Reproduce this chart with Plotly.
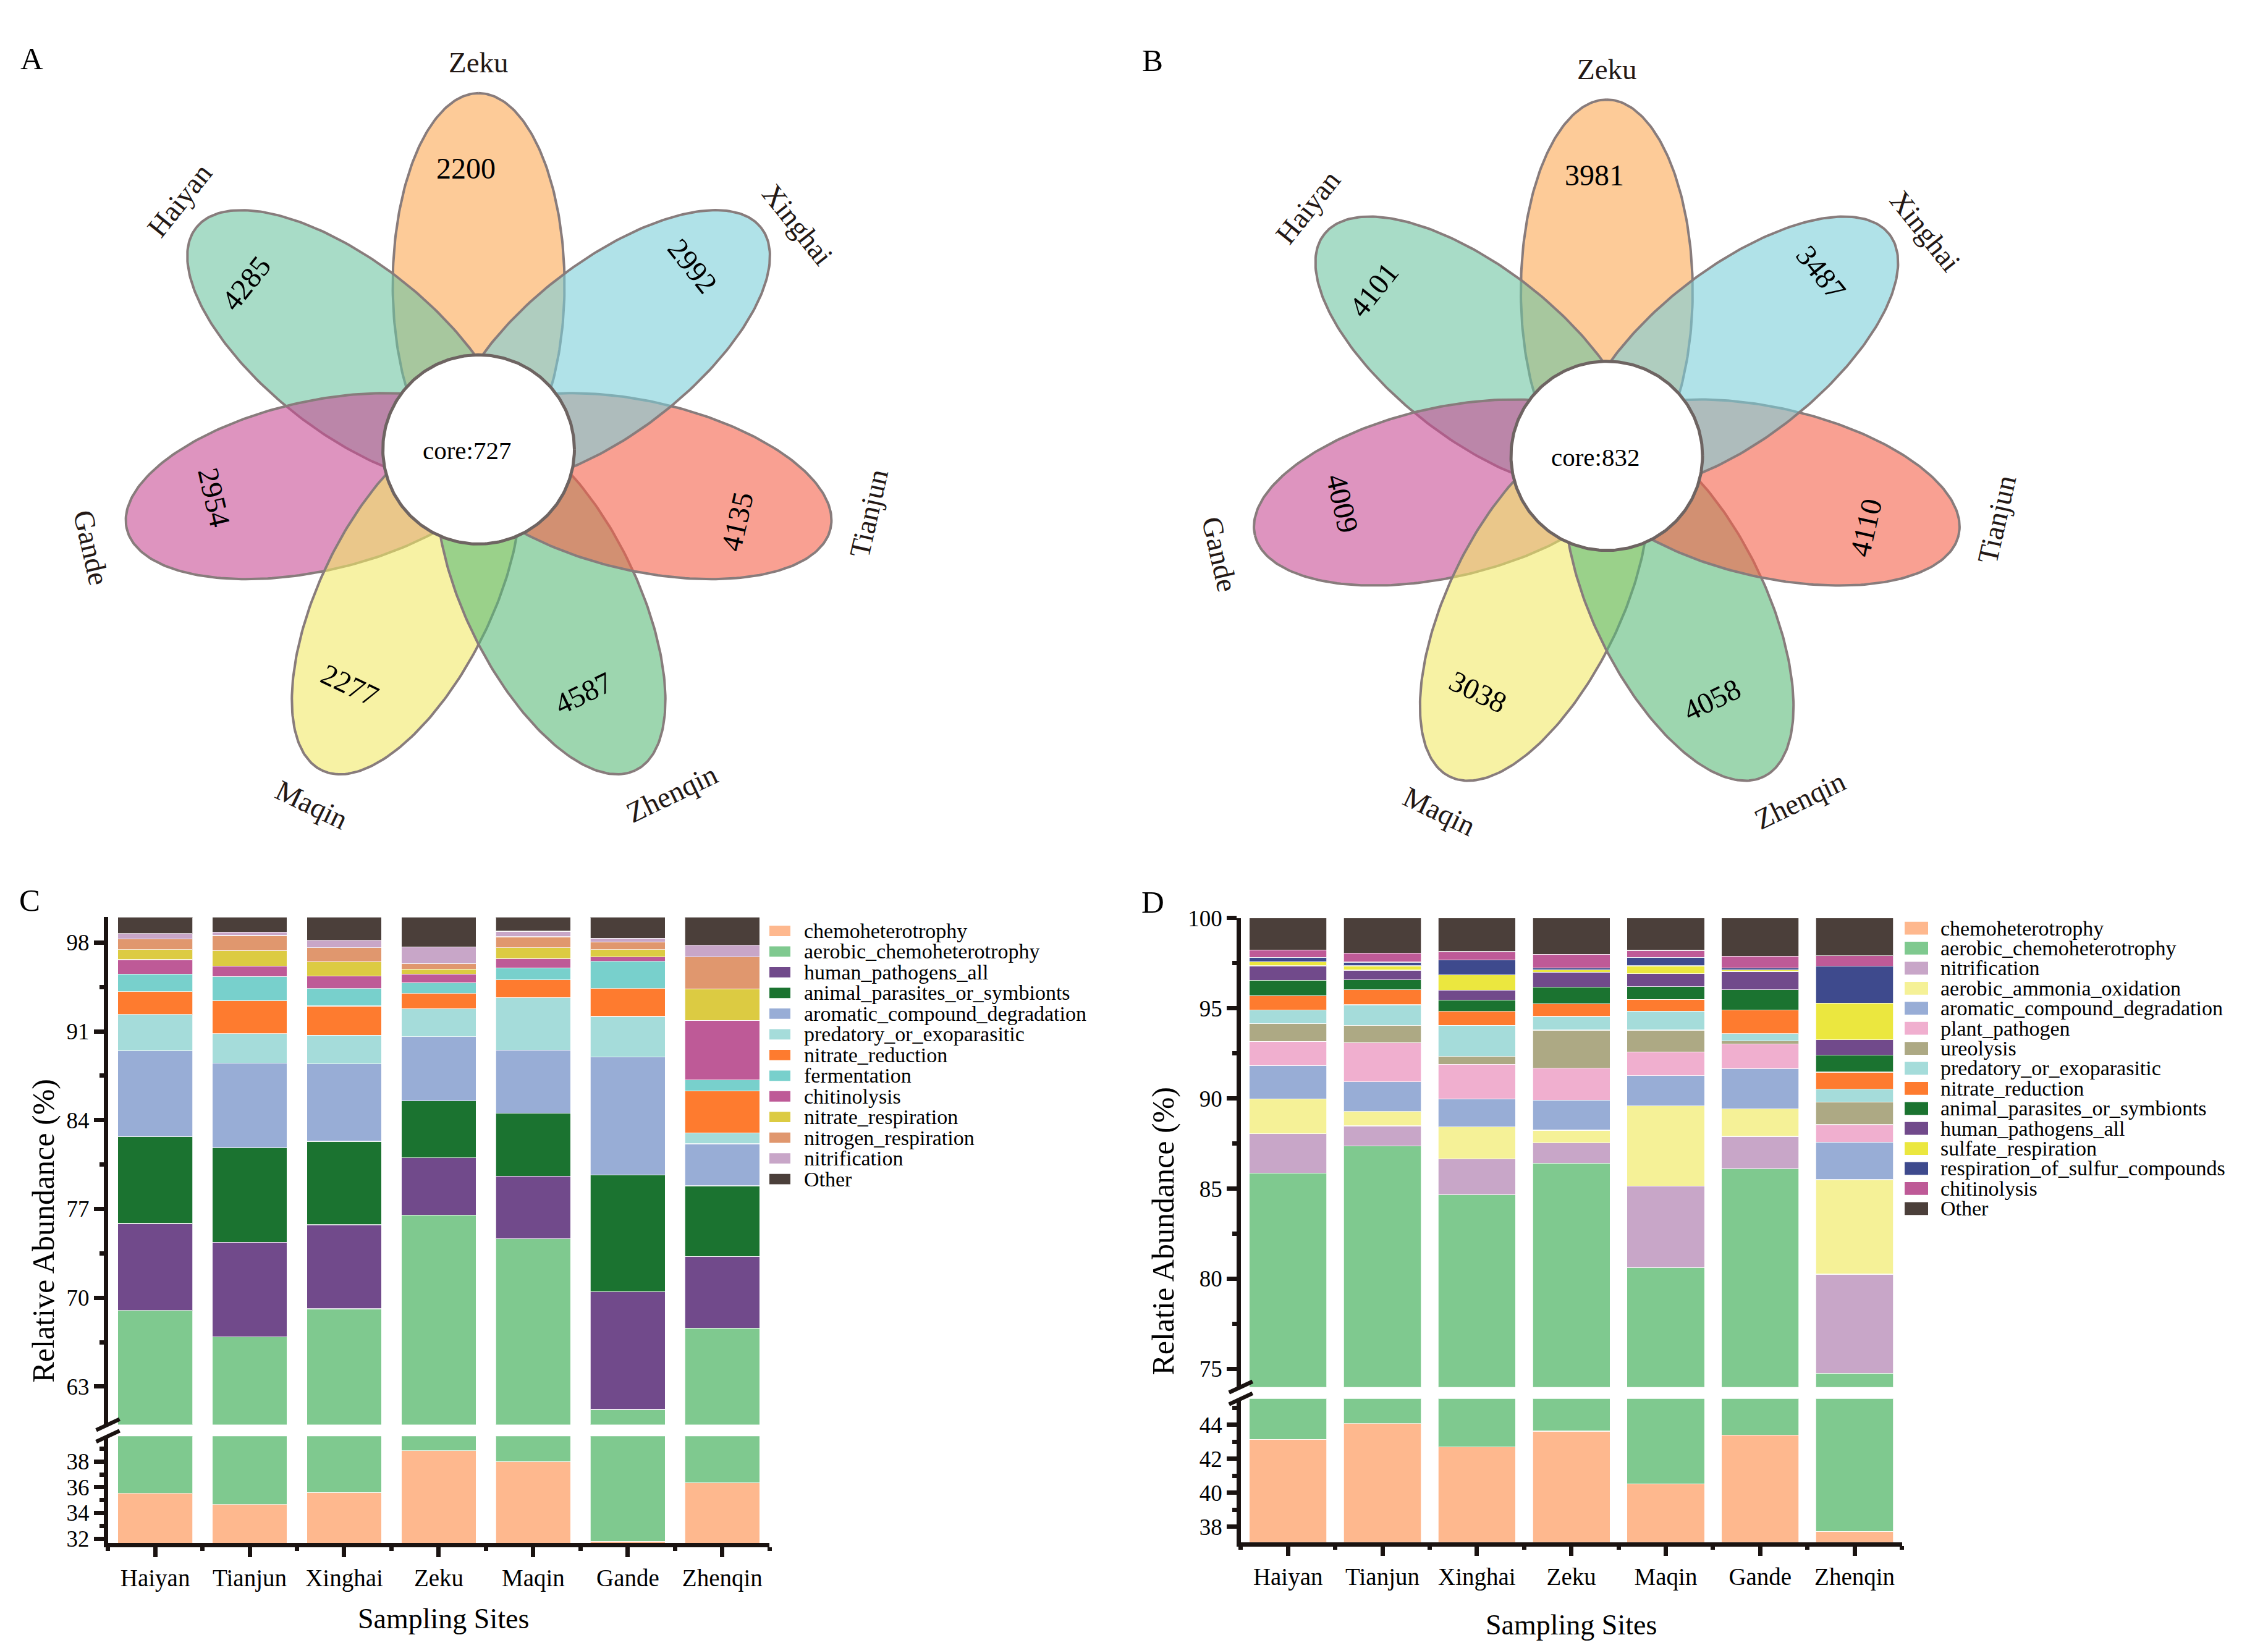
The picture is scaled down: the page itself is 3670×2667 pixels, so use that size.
import numpy as np
import plotly.graph_objects as go

W, H = 3670, 2667
FONT = "Liberation Serif, Times New Roman, serif"
INK = "#1a1311"

# ---------------- data ----------------
sites = ["Haiyan", "Tianjun", "Xinghai", "Zeku", "Maqin", "Gande", "Zhenqin"]

# flower diagrams (petals in clockwise order starting at the top)
flower_sites = ["Zeku", "Xinghai", "Tianjun", "Zhenqin", "Maqin", "Gande", "Haiyan"]
counts_A = [2200, 2992, 4135, 4587, 2277, 2954, 4285]
core_A = 727
counts_B = [3981, 3487, 4110, 4058, 3038, 4009, 4101]
core_B = 832

# panel C (relative abundance, %)
c_chemoheterotrophy = [35.52, 34.67, 35.60, 38.84, 38.00, 31.80, 36.34]
c_aerobic_chemoheterotrophy = [33.48, 32.26, 33.53, 37.69, 36.66, 29.39, 31.26]
c_human_pathogens_all = [6.85, 7.45, 6.63, 4.51, 4.94, 9.29, 5.65]
c_animal_parasites_or_symbionts = [6.85, 7.45, 6.57, 4.48, 4.93, 9.21, 5.58]
c_aromatic_compound_degradation = [6.77, 6.66, 6.10, 5.06, 5.00, 9.29, 3.31]
c_predatory_or_exoparasitic = [2.86, 2.33, 2.27, 2.21, 4.14, 3.19, 0.86]
c_nitrate_reduction = [1.80, 2.61, 2.30, 1.19, 1.39, 2.21, 3.31]
c_fermentation = [1.39, 1.90, 1.38, 0.86, 0.94, 2.15, 0.86]
c_chitinolysis = [1.13, 0.83, 0.98, 0.68, 0.74, 0.34, 4.70]
c_nitrate_respiration = [0.80, 1.20, 1.14, 0.39, 0.86, 0.58, 2.48]
c_nitrogen_respiration = [0.83, 1.19, 1.10, 0.43, 0.86, 0.61, 2.52]
c_nitrification = [0.43, 0.28, 0.58, 1.32, 0.43, 0.28, 0.92]
c_other = [1.29, 1.17, 1.82, 2.34, 1.11, 1.66, 2.21]

# panel D (relative abundance, %)
d_chemoheterotrophy = [43.14, 44.07, 42.69, 43.62, 40.53, 43.39, 37.73]
d_aerobic_chemoheterotrophy = [42.73, 43.29, 41.97, 42.79, 40.10, 42.72, 37.03]
d_nitrification = [2.18, 1.12, 1.99, 1.14, 4.51, 1.79, 5.50]
d_aerobic_ammonia_oxidation = [1.92, 0.80, 1.77, 0.69, 4.44, 1.53, 5.24]
d_aromatic_compound_degradation = [1.85, 1.64, 1.55, 1.67, 1.68, 2.22, 2.08]
d_plant_pathogen = [1.34, 2.18, 1.92, 1.76, 1.32, 1.36, 0.97]
d_ureolysis = [0.99, 0.95, 0.43, 2.12, 1.21, 0.17, 1.25]
d_predatory_or_exoparasitic = [0.74, 1.14, 1.73, 0.75, 1.05, 0.41, 0.71]
d_nitrate_reduction = [0.80, 0.84, 0.77, 0.71, 0.65, 1.30, 0.95]
d_animal_parasites_or_symbionts = [0.86, 0.54, 0.63, 0.93, 0.71, 1.14, 0.93]
d_human_pathogens_all = [0.80, 0.54, 0.56, 0.82, 0.72, 1.01, 0.86]
d_sulfate_respiration = [0.23, 0.24, 0.84, 0.13, 0.43, 0.09, 2.03]
d_respiration_of_sulfur_compounds = [0.24, 0.21, 0.82, 0.11, 0.47, 0.09, 2.05]
d_chitinolysis = [0.41, 0.50, 0.47, 0.75, 0.39, 0.67, 0.58]
d_other = [1.77, 1.94, 1.86, 2.01, 1.79, 2.11, 2.09]

# ---------------- styles ----------------
COL = {
    "chemoheterotrophy": "#FEB88E",
    "aerobic_chemoheterotrophy": "#7FC98F",
    "human_pathogens_all": "#714A8B",
    "animal_parasites_or_symbionts": "#1B7330",
    "aromatic_compound_degradation": "#98ADD6",
    "predatory_or_exoparasitic": "#A5DCDA",
    "nitrate_reduction": "#FE7B2F",
    "fermentation": "#78D0CC",
    "chitinolysis": "#BE5A97",
    "nitrate_respiration": "#DCCB42",
    "nitrogen_respiration": "#E0976E",
    "nitrification": "#C8A6C8",
    "aerobic_ammonia_oxidation": "#F5F197",
    "plant_pathogen": "#F0AFCF",
    "ureolysis": "#ADA984",
    "sulfate_respiration": "#EBE73F",
    "respiration_of_sulfur_compounds": "#3E4A8D",
    "Other": "#4B3F3A",
}

C_series = [
    ("chemoheterotrophy", c_chemoheterotrophy),
    ("aerobic_chemoheterotrophy", c_aerobic_chemoheterotrophy),
    ("human_pathogens_all", c_human_pathogens_all),
    ("animal_parasites_or_symbionts", c_animal_parasites_or_symbionts),
    ("aromatic_compound_degradation", c_aromatic_compound_degradation),
    ("predatory_or_exoparasitic", c_predatory_or_exoparasitic),
    ("nitrate_reduction", c_nitrate_reduction),
    ("fermentation", c_fermentation),
    ("chitinolysis", c_chitinolysis),
    ("nitrate_respiration", c_nitrate_respiration),
    ("nitrogen_respiration", c_nitrogen_respiration),
    ("nitrification", c_nitrification),
    ("Other", c_other),
]
D_series = [
    ("chemoheterotrophy", d_chemoheterotrophy),
    ("aerobic_chemoheterotrophy", d_aerobic_chemoheterotrophy),
    ("nitrification", d_nitrification),
    ("aerobic_ammonia_oxidation", d_aerobic_ammonia_oxidation),
    ("aromatic_compound_degradation", d_aromatic_compound_degradation),
    ("plant_pathogen", d_plant_pathogen),
    ("ureolysis", d_ureolysis),
    ("predatory_or_exoparasitic", d_predatory_or_exoparasitic),
    ("nitrate_reduction", d_nitrate_reduction),
    ("animal_parasites_or_symbionts", d_animal_parasites_or_symbionts),
    ("human_pathogens_all", d_human_pathogens_all),
    ("sulfate_respiration", d_sulfate_respiration),
    ("respiration_of_sulfur_compounds", d_respiration_of_sulfur_compounds),
    ("chitinolysis", d_chitinolysis),
    ("Other", d_other),
]

PETAL_RGB = {
    "Zeku": (252, 168, 83),
    "Xinghai": (123, 207, 217),
    "Tianjun": (245, 97, 73),
    "Zhenqin": (92, 187, 122),
    "Maqin": (242, 233, 103),
    "Gande": (200, 77, 148),
    "Haiyan": (110, 197, 162),
}
DRAW_ORDER = ["Zeku", "Haiyan", "Gande", "Maqin", "Zhenqin", "Tianjun", "Xinghai"]
# text placement around each flower: (angle offset in degrees, radius in px)
LABEL_POS = {"Zeku": (0, 634), "Xinghai": (-3, 634), "Tianjun": (3.5, 640), "Zhenqin": (3.3, 645),
             "Maqin": (0.8, 642), "Gande": (1.6, 647), "Haiyan": (-1.6, 633)}
COUNT_POS = {"Zeku": (2.5, 461), "Xinghai": (2.4, 459), "Tianjun": (-2.9, 435), "Zhenqin": (-2.7, 434),
             "Maqin": (-2.6, 439), "Gande": (-2.5, 435), "Haiyan": (2.7, 465)}


def fx(x):
    return x / W


def fy(y):
    return 1 - y / H


fig = go.Figure()

# ---------------- stacked bars with broken axes ----------------
xs = list(range(len(sites)))
for series, pairs, bw in ((C_series, (("x", "y"), ("x2", "y2")), 0.79),
                          (D_series, (("x3", "y3"), ("x4", "y4")), 0.82)):
    for name, vals in series:
        for xa, ya in pairs:
            fig.add_trace(go.Bar(
                x=xs, y=vals, name=name, width=bw,
                marker=dict(color=COL[name], line=dict(color="rgba(255,255,255,0.75)", width=1.2)),
                xaxis=xa, yaxis=ya, showlegend=False, hoverinfo="name+y"))

# ---------------- flowers ----------------
D_PET, A_PET, B_PET, R_CORE = 270, 314, 139, 155


def ellipse(cx, cy, a, b, ang, n=260):
    t = np.linspace(0, 2 * np.pi, n)
    th = np.radians(ang)
    ex, ey = a * np.cos(t), b * np.sin(t)
    return cx + ex * np.cos(th) - ey * np.sin(th), cy - (ex * np.sin(th) + ey * np.cos(th))


annotations = []
angles = [90 - k * 360 / 7 for k in range(len(flower_sites))]

for (xa, ya, cx, cy, counts, core) in (("x5", "y5", 774.5, 716.5, counts_A, core_A),
                                       ("x6", "y6", 2600.0, 727.0, counts_B, core_B)):
    for site in DRAW_ORDER:
        k = flower_sites.index(site)
        ang = angles[k]
        pcx = cx + D_PET * np.cos(np.radians(ang))
        pcy = cy - D_PET * np.sin(np.radians(ang))
        ex, ey = ellipse(pcx, pcy, A_PET, B_PET, ang)
        r, g, b = PETAL_RGB[site]
        fig.add_trace(go.Scatter(
            x=ex, y=ey, mode="lines", fill="toself",
            fillcolor=f"rgba({r},{g},{b},0.6)",
            line=dict(color="rgba(136,124,124,1)", width=4),
            xaxis=xa, yaxis=ya, showlegend=False, hoverinfo="skip"))
    ex, ey = ellipse(cx, cy, R_CORE, R_CORE, 0)
    fig.add_trace(go.Scatter(
        x=ex, y=ey, mode="lines", fill="toself", fillcolor="white",
        line=dict(color="#6e6462", width=5),
        xaxis=xa, yaxis=ya, showlegend=False, hoverinfo="skip"))
    annotations.append(dict(x=cx - 19, y=cy + 2, xref=xa, yref=ya, text=f"core:{core}",
                            xanchor="center", yanchor="middle",
                            showarrow=False, font=dict(family=FONT, size=41, color="black")))
    for k, site in enumerate(flower_sites):
        ang = angles[k]
        rot = ((90 - ang + 180) % 360) - 180
        if rot > 90:
            rot -= 180
        elif rot < -90:
            rot += 180
        # site label
        da, rr = LABEL_POS[site]
        la = np.radians(ang + da)
        annotations.append(dict(x=cx + rr * np.cos(la), y=cy - rr * np.sin(la), xref=xa, yref=ya,
                                text=site, textangle=rot, xanchor="center", yanchor="middle",
                                showarrow=False, font=dict(family=FONT, size=47, color="#231815")))
        # count
        da, rr = COUNT_POS[site]
        na = np.radians(ang + da)
        annotations.append(dict(x=cx + rr * np.cos(na), y=cy - rr * np.sin(na), xref=xa, yref=ya,
                                text=str(counts[k]), textangle=rot, xanchor="center", yanchor="middle",
                                showarrow=False, font=dict(family=FONT, size=48, color="black")))

# ---------------- axes ----------------
ytick_common = dict(showline=True, linecolor=INK, linewidth=6.5, ticks="outside", ticklen=16,
                    tickwidth=6.5, tickcolor=INK, showgrid=False, zeroline=False,
                    tickfont=dict(family=FONT, size=37, color="black"), tickmode="linear")
xtick_common = dict(showline=True, linecolor=INK, linewidth=6.5, ticks="outside", ticklen=16,
                    tickwidth=6.5, tickcolor=INK, showgrid=False, zeroline=False,
                    range=[-0.5, len(sites) - 0.5], tickmode="array", tickvals=xs, ticktext=sites,
                    tickfont=dict(family=FONT, size=39, color="black"),
                    minor=dict(tickmode="array", tickvals=[i - 0.5 for i in range(len(sites) + 1)],
                               ticks="outside", ticklen=6, tickwidth=6.5, tickcolor=INK))
hidden_x = dict(visible=False, range=[-0.5, len(sites) - 0.5])
flower_ax = dict(visible=False, showgrid=False, zeroline=False)

cx0, cx1 = fx(174.6), fx(1245.3)
dx0, dx1 = fx(2007.8), fx(3077.5)

layout = dict(
    width=W, height=H, margin=dict(l=0, r=0, t=0, b=0),
    paper_bgcolor="white", plot_bgcolor="rgba(0,0,0,0)",
    barmode="stack", showlegend=False,
    xaxis=dict(domain=[cx0, cx1], anchor="y", **xtick_common),
    yaxis=dict(domain=[fy(2509.4), fy(2334)], anchor="x", range=[31.65, 39.97], tick0=32, dtick=2,
               minor=dict(dtick=1, tick0=32, ticks="outside", ticklen=7, tickwidth=6.5, tickcolor=INK),
               **ytick_common),
    xaxis2=dict(domain=[cx0, cx1], anchor="y2", matches="x", **hidden_x),
    yaxis2=dict(domain=[fy(2315), fy(1483.2)], anchor="x2", range=[60, 100], tick0=63, dtick=7,
                minor=dict(dtick=3.5, tick0=63, ticks="outside", ticklen=7, tickwidth=6.5, tickcolor=INK),
                **ytick_common),
    xaxis3=dict(domain=[dx0, dx1], anchor="y3", **xtick_common),
    yaxis3=dict(domain=[fy(2507.6), fy(2272.7)], anchor="x3", range=[37.1, 45.52], tick0=38, dtick=2,
                minor=dict(dtick=1, tick0=38, ticks="outside", ticklen=7, tickwidth=6.5, tickcolor=INK),
                **ytick_common),
    xaxis4=dict(domain=[dx0, dx1], anchor="y4", matches="x3", **hidden_x),
    yaxis4=dict(domain=[fy(2253.4), fy(1484.6)], anchor="x4", range=[74, 100], tick0=75, dtick=5,
                minor=dict(dtick=2.5, tick0=75, ticks="outside", ticklen=7, tickwidth=6.5, tickcolor=INK),
                **ytick_common),
    xaxis5=dict(domain=[0, 0.5], anchor="y5", range=[0, W / 2], **flower_ax),
    yaxis5=dict(domain=[0.5, 1], anchor="x5", range=[H / 2, 0], **flower_ax),
    xaxis6=dict(domain=[0.5, 1], anchor="y6", range=[W / 2, W], **flower_ax),
    yaxis6=dict(domain=[0.5, 1], anchor="x6", range=[H / 2, 0], **flower_ax),
)
fig.update_layout(**layout)

shapes = []
# axis-break slashes
for ax_x, y_up, y_lo in ((174.6, 2315, 2334), (2007.8, 2253.4, 2272.7)):
    for yy in (y_up, y_lo):
        shapes.append(dict(type="line", xref="paper", yref="paper",
                           x0=fx(ax_x - 19), y0=fy(yy + 9), x1=fx(ax_x + 19), y1=fy(yy - 9),
                           line=dict(color=INK, width=6.5)))

# manual legends
for series, sx0, sx1, sh, y0, dy, tx in ((C_series, 1245, 1279, 17, 1505.7, 33.9, 1298.5),
                                         (D_series, 3082, 3120, 21, 1501.2, 32.83, 3138)):
    for i, (name, _) in enumerate(series):
        yc = y0 + i * dy
        shapes.append(dict(type="rect", xref="paper", yref="paper",
                           x0=fx(sx0), x1=fx(sx1), y0=fy(yc + sh / 2), y1=fy(yc - sh / 2),
                           fillcolor=COL[name], line=dict(width=0)))
        annotations.append(dict(x=fx(tx), y=fy(yc), xref="paper", yref="paper", text=name,
                                xanchor="left", yanchor="middle", showarrow=False,
                                font=dict(family=FONT, size=34, color="black")))

# axis titles and panel letters
annotations += [
    dict(x=fx(70), y=fy(1998), xref="paper", yref="paper", text="Relative Abundance (%)",
         textangle=-90, xanchor="center", yanchor="middle", showarrow=False,
         font=dict(family=FONT, size=50, color="black")),
    dict(x=fx(1882), y=fy(1998), xref="paper", yref="paper", text="Relatie Abundance (%)",
         textangle=-90, xanchor="center", yanchor="middle", showarrow=False,
         font=dict(family=FONT, size=50, color="black")),
    dict(x=fx(717), y=fy(2633), xref="paper", yref="paper", text="Sampling Sites",
         xanchor="center", yanchor="middle", showarrow=False,
         font=dict(family=FONT, size=46, color="black")),
    dict(x=fx(2542), y=fy(2643), xref="paper", yref="paper", text="Sampling Sites",
         xanchor="center", yanchor="middle", showarrow=False,
         font=dict(family=FONT, size=46, color="black")),
]
for letter, px, py in (("A", 51, 76), ("B", 1865, 79), ("C", 48, 1456), ("D", 1866, 1459)):
    annotations.append(dict(x=fx(px), y=fy(py), xref="paper", yref="paper", text=letter,
                            xanchor="center", yanchor="middle",
                            showarrow=False, font=dict(family=FONT, size=51, color="black")))

fig.update_layout(shapes=shapes, annotations=annotations)

fig.write_html("out.html", config={"displayModeBar": False},
               post_script="document.body.style.margin='0';document.body.style.overflow='hidden';")
